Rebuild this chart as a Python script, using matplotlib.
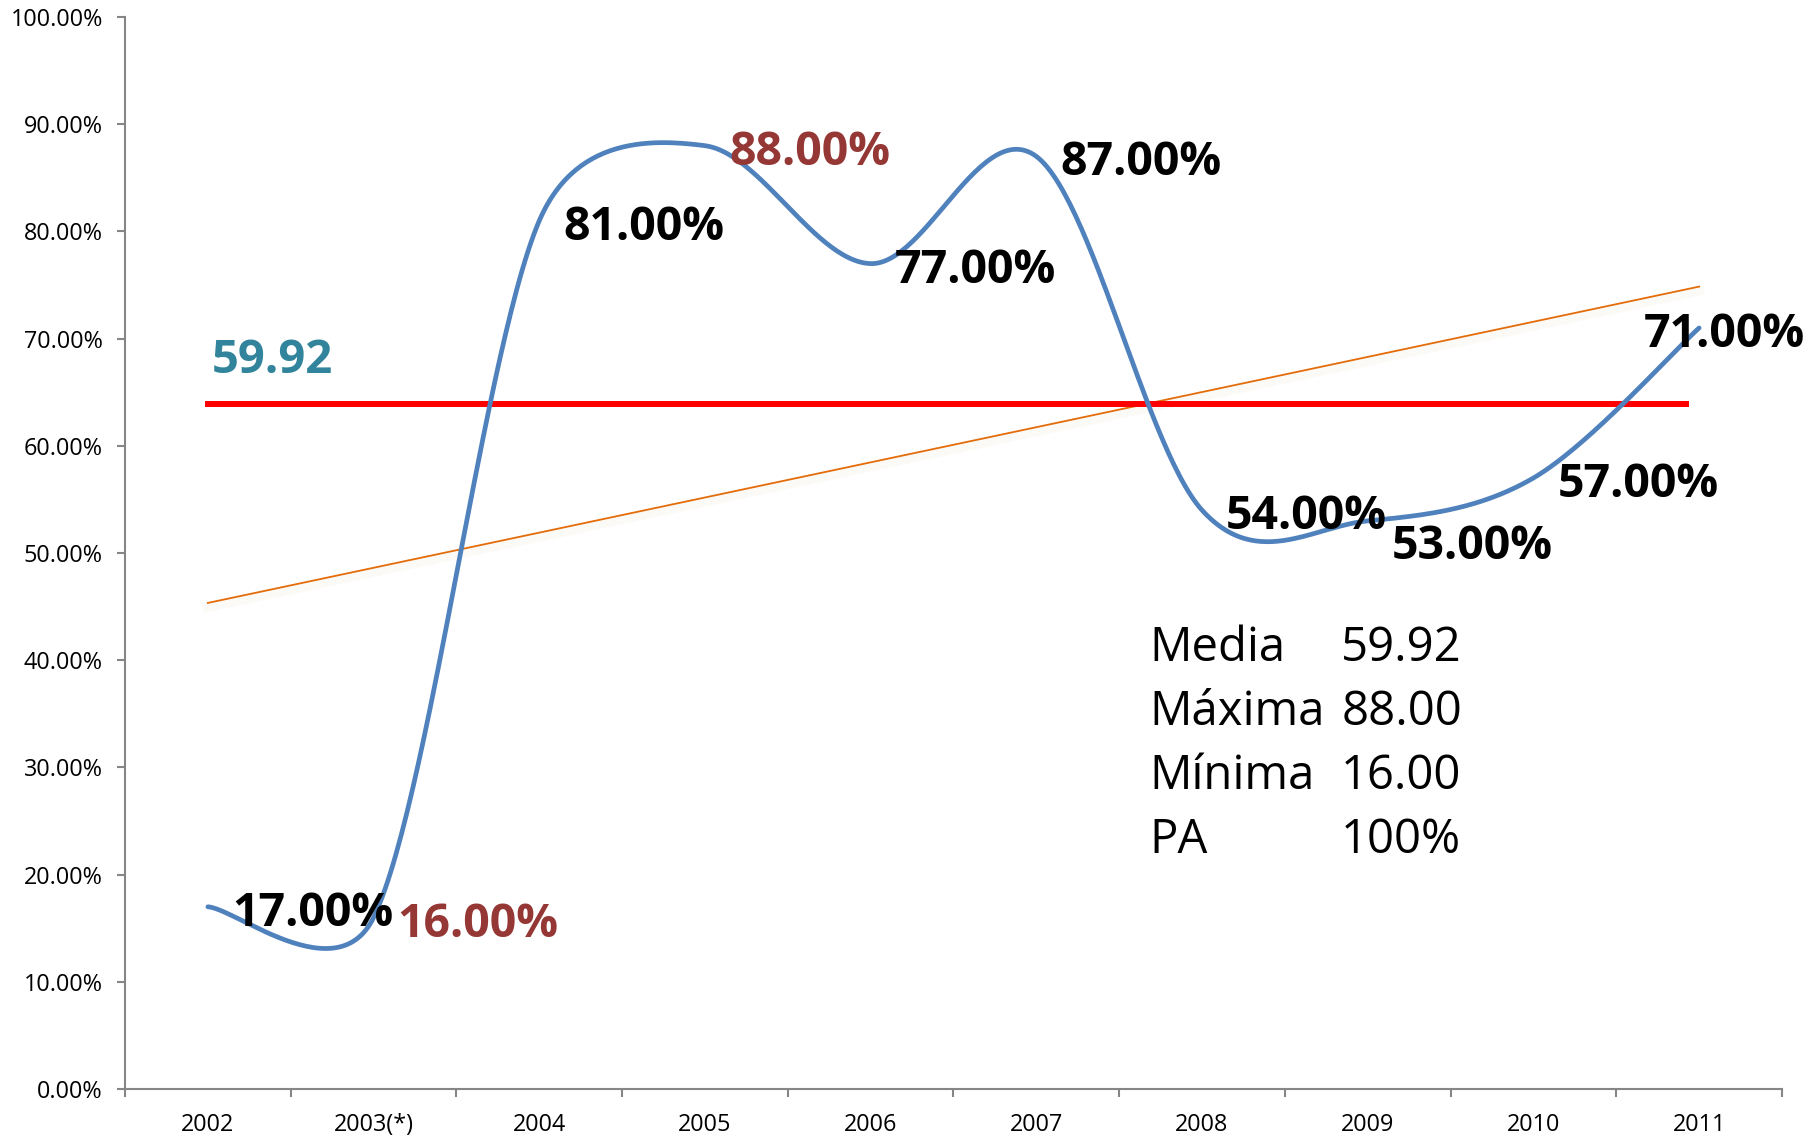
import numpy as np
import matplotlib
matplotlib.use('Agg')
import matplotlib.pyplot as plt
from matplotlib import patheffects as pe

# Data
years = ['2002', '2003(*)', '2004', '2005', '2006', '2007', '2008', '2009', '2010', '2011']
values = [17, 16, 81, 88, 77, 87, 54, 53, 57, 71]
label_colors = ['black', '#953735', 'black', '#953735', 'black',
                'black', 'black', 'black', 'black', 'black']
media_level = 63.9          # where the red reference line sits in the picture
media_text = '59.92'
stats_names = ['Media', 'Máxima', 'Mínima', 'PA']
stats_values = ['59.92', '88.00', '16.00', '100%']

plt.rcParams['font.family'] = ['Open Sans', 'DejaVu Sans']


def excel_smooth(ax, xs, ys, n=60):
    """Bezier smoothing the way Excel draws a 'smoothed line' series."""
    pts = ax.transData.transform(np.column_stack([xs, ys]))
    m = len(pts)
    t = np.linspace(0, 1, n)[:, None]
    out = []
    for i in range(m - 1):
        p0 = pts[max(i - 1, 0)]
        p1, p2 = pts[i], pts[i + 1]
        p3 = pts[min(i + 2, m - 1)]
        d12 = np.hypot(*(p2 - p1))
        d02 = np.hypot(*(p2 - p0))
        d13 = np.hypot(*(p3 - p1))
        f1 = 1 / 6 if d02 / 6 < d12 / 2 else d12 / d02 / 2
        f2 = 1 / 6 if d13 / 6 < d12 / 2 else d12 / d13 / 2
        c1 = p1 + (p2 - p0) * f1
        c2 = p2 - (p3 - p1) * f2
        seg = (1 - t) ** 3 * p1 + 3 * (1 - t) ** 2 * t * c1 + 3 * (1 - t) * t ** 2 * c2 + t ** 3 * p2
        out.append(seg if i == 0 else seg[1:])
    return ax.transData.inverted().transform(np.vstack(out))


fig = plt.figure(figsize=(18.2, 11.37), dpi=100)
ax = fig.add_axes([0.0687, 0.0422, 0.9104, 0.9428])
x = np.arange(len(years))
ax.set_xlim(-0.5, len(years) - 0.5)
ax.set_ylim(0, 100)

# trend line (linear fit of the series)
slope, intercept = np.polyfit(x, values, 1)
ax.plot([x[0], x[-1]], [intercept, intercept + slope * x[-1]], color='#E46C0A', lw=1.3,
        path_effects=[pe.SimpleLineShadow(offset=(0, -3), shadow_color='#efe6d8', alpha=0.2, linewidth=7),
                      pe.Normal()], zorder=2)

# red reference line
ax.plot([0, 8.92], [media_level, media_level], color='red', lw=4.3, zorder=3)

# smoothed series
curve = excel_smooth(ax, x, values)
ax.plot(curve[:, 0], curve[:, 1], color='#4F81BD', lw=3.4, solid_capstyle='round', zorder=4)

# data labels
offsets = {7: (17.3, -27.4), 9: (-39.6, -14)}
for i, v in enumerate(values):
    ax.annotate(f'{v:.2f}%', (x[i], v), xytext=offsets.get(i, (17.3, -13.7)),
                textcoords='offset points', ha='left', va='baseline',
                fontsize=33.5, fontweight='bold', color=label_colors[i], zorder=5)

ax.text(0.025, 66.8, media_text, fontsize=34, fontweight='bold', color='#31849B', va='baseline')

for k, (name, val) in enumerate(zip(stats_names, stats_values)):
    yy = 39.9 - 5.97 * k
    ax.text(5.68, yy, name, fontsize=34, va='baseline')
    ax.text(6.84, yy, val, fontsize=34, va='baseline')

# axes styling
for side in ['top', 'right']:
    ax.spines[side].set_visible(False)
for side in ['left', 'bottom']:
    ax.spines[side].set_color('#868686')
    ax.spines[side].set_linewidth(1.5)

ax.set_yticks(np.arange(0, 101, 10))
ax.set_yticklabels([f'{v:.2f}%' for v in np.arange(0, 101, 10)])
ax.tick_params(axis='y', direction='out', length=6, width=1.5, color='#868686', pad=10, labelsize=16.8)

ax.set_xticks(np.arange(-0.5, len(years), 1))
ax.set_xticklabels([])
ax.set_xticks(x, minor=True)
ax.set_xticklabels(years, minor=True)
ax.tick_params(axis='x', which='major', direction='out', length=6, width=1.5, color='#868686')
ax.tick_params(axis='x', which='minor', length=0, pad=17, labelsize=16.8)

fig.savefig('out.png', dpi=100)
